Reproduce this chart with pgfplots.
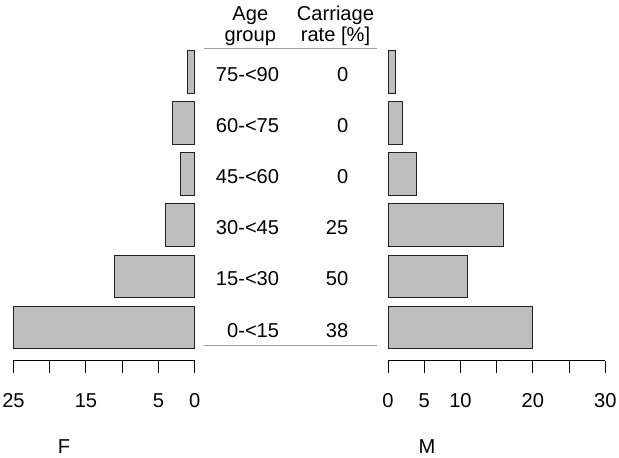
\documentclass[border=0pt]{standalone}
\usepackage{fontspec}
\setmainfont{Liberation Sans}
\usepackage{pgfplots}
\pgfplotsset{compat=1.18}
\definecolor{barfill}{HTML}{BEBEBE}
\definecolor{baredge}{HTML}{202020}
\definecolor{rulegray}{HTML}{A0A0A0}
\newcommand{\bigf}{\fontsize{20.1}{23}\selectfont}
\begin{document}
\begin{tikzpicture}
\useasboundingbox (0pt,0pt) rectangle (619pt,458pt);
\pgfplotsset{
  pyr/.style={
    scale only axis, height=314.3pt,
    ymin=0.35, ymax=6.5,
    axis x line*=bottom, axis y line=none,
    axis line style={-, line width=1pt, black},
    tick align=outside, major tick length=12.6pt,
    major tick style={line width=1pt, black},
    xticklabel style={font=\bigf, anchor=base, yshift=-34pt, inner sep=0pt},
    xbar, bar width=0.835, clip=false,
  }
}
% Females (left)
\begin{axis}[pyr, at={(13.5pt,97.3pt)}, anchor=south west, width=181.2pt,
  x dir=reverse, xmin=0, xmax=25,
  xtick={0,5,10,15,20,25}, xticklabels={0,5,,15,,25}]
\addplot[fill=barfill, draw=baredge, line width=1pt] coordinates {(25,1) (11,2) (4,3) (2,4) (3,5) (1,6)};
\end{axis}
% Males (right)
\begin{axis}[pyr, at={(388pt,97.3pt)}, anchor=south west, width=217.3pt,
  xmin=0, xmax=30,
  xtick={0,5,10,15,20,25,30}, xticklabels={0,5,10,,20,,30}]
\addplot[fill=barfill, draw=baredge, line width=1pt] coordinates {(20,1) (11,2) (16,3) (4,4) (2,5) (1,6)};
\end{axis}
% centre table
\draw[rulegray, line width=0.9pt] (204pt,409.7pt) -- (377pt,409.7pt);
\draw[rulegray, line width=0.9pt] (204pt,112.3pt) -- (377pt,112.3pt);
\node[font=\bigf, anchor=base, inner sep=0pt] at (250.3pt,437.3pt) {Age};
\node[font=\bigf, anchor=base, inner sep=0pt] at (250.3pt,416.3pt) {group};
\node[font=\bigf, anchor=base, inner sep=0pt] at (335.5pt,437.3pt) {Carriage};
\node[font=\bigf, anchor=base, inner sep=0pt] at (335.5pt,416.3pt) {rate [\%]};
\foreach \lab/\rate/\yy in {0-<15/38/120.8, 15-<30/50/172.0, 30-<45/25/223.3, 45-<60/0/274.3, 60-<75/0/325.3, 75-<90/0/376.3}{
  \node[font=\bigf, anchor=base east, inner sep=0pt] at (279.3pt,\yy pt) {\lab};
  \node[font=\bigf, anchor=base east, inner sep=0pt] at (348.5pt,\yy pt) {\rate};
}
\node[font=\bigf, anchor=base, inner sep=0pt] at (64pt,4.7pt) {F};
\node[font=\bigf, anchor=base, inner sep=0pt] at (427pt,4.7pt) {M};
\end{tikzpicture}
\end{document}
